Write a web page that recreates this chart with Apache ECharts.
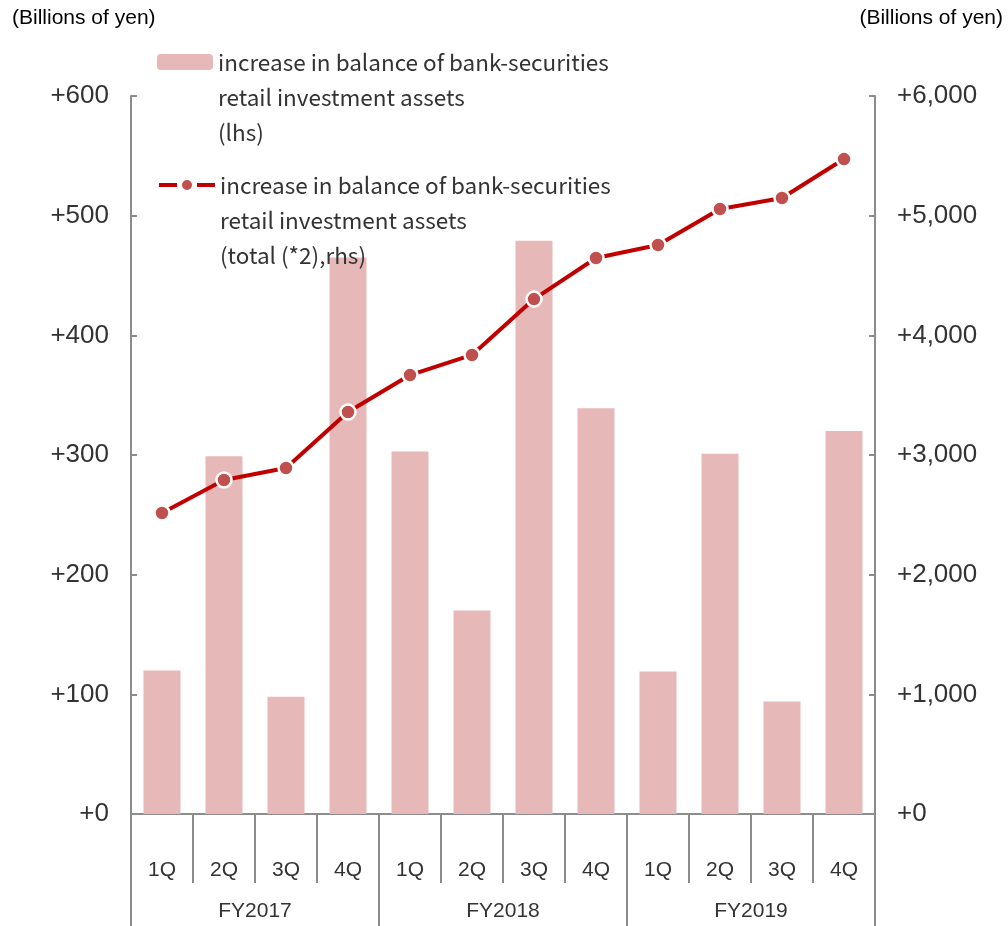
<!DOCTYPE html>
<html>
<head>
<meta charset="utf-8">
<script src="https://cdn.jsdelivr.net/npm/echarts@6/dist/echarts.min.js"></script>
<style>
  html, body { margin: 0; padding: 0; background: #fff; }
  #chart { width: 1008px; height: 926px; }
</style>
</head>
<body>
<div id="chart"></div>
<script>
// Quarterly categories and fiscal-year groups
const quarters = ['1Q', '2Q', '3Q', '4Q', '1Q', '2Q', '3Q', '4Q', '1Q', '2Q', '3Q', '4Q'];
const fiscalYears = ['FY2017', 'FY2018', 'FY2019'];

// Increase in balance per quarter (lhs, billions of yen)
const quarterlyIncrease = [120, 299, 98, 465, 303, 170, 479, 339, 119, 301, 94, 320];
// Cumulative increase (rhs, billions of yen)
const cumulativeIncrease = [2515, 2791, 2891, 3359, 3668, 3836, 4303, 4646, 4755, 5056, 5148, 5473];

const barName = 'increase in balance of bank-securities\nretail investment assets\n(lhs)';
const lineName = 'increase in balance of bank-securities\nretail investment assets\n(total (*2),rhs)';

const axisGray = '#8c8c8c';
const labelFont = 'Liberation Sans, Arial, sans-serif';
const legendFont = '"Noto Sans CJK JP", sans-serif';
const legendLine = 35;

const chart = echarts.init(document.getElementById('chart'), null, { renderer: 'canvas' });

// Two blank lines ahead of the three-line label keep the icon level with the first line
const legendFormatter = name => '\n\n' + name;
const legendText = {
  fontFamily: legendFont,
  fontSize: 22.5,
  color: '#333',
  lineHeight: legendLine
};

chart.setOption({
  animation: false,
  backgroundColor: '#fff',
  title: [
    { text: '(Billions of yen)', left: 12, top: 8, padding: 0,
      textStyle: { fontFamily: labelFont, fontSize: 21, fontWeight: 'normal', color: '#000' } },
    { text: '(Billions of yen)', right: 5, top: 8, padding: 0,
      textStyle: { fontFamily: labelFont, fontSize: 21, fontWeight: 'normal', color: '#000' } }
  ],
  legend: [
    { data: [barName], left: 157, top: 62 - (legendLine * 5) / 2, padding: 0,
      itemWidth: 56, itemHeight: 16, itemGap: 0, textStyle: legendText,
      formatter: legendFormatter, selectedMode: false },
    { data: [lineName], left: 157, top: 185 - (legendLine * 5) / 2, padding: 0,
      itemWidth: 56, itemHeight: 15, itemGap: 0, textStyle: legendText,
      formatter: legendFormatter, selectedMode: false,
      lineStyle: { width: 4, type: [18, 20] } }
  ],
  grid: { left: 131, right: 133, top: 96, bottom: 112, containLabel: false },
  xAxis: [
    {
      type: 'category', data: quarters, position: 'bottom', offset: 0,
      axisLine: { lineStyle: { color: axisGray, width: 2 } },
      axisTick: { show: true, interval: 0, length: 69, lineStyle: { color: axisGray, width: 2 } },
      axisLabel: { interval: 0, margin: 46, fontFamily: labelFont, fontSize: 21, color: '#333' }
    },
    {
      type: 'category', data: fiscalYears, position: 'bottom', offset: 0,
      axisLine: { show: false },
      axisTick: { show: true, interval: 0, length: 112, lineStyle: { color: axisGray, width: 2 } },
      axisLabel: { interval: 0, margin: 87, fontFamily: labelFont, fontSize: 21, color: '#333' }
    }
  ],
  yAxis: [
    {
      type: 'value', min: 0, max: 600, interval: 100, position: 'left',
      splitLine: { show: false },
      axisLine: { show: true, lineStyle: { color: axisGray, width: 2 } },
      axisTick: { show: true, inside: true, length: 6, lineStyle: { color: axisGray, width: 2 } },
      axisLabel: { margin: 22, fontFamily: labelFont, fontSize: 26, color: '#333',
        formatter: v => '+' + v }
    },
    {
      type: 'value', min: 0, max: 6000, interval: 1000, position: 'right',
      splitLine: { show: false },
      axisLine: { show: true, lineStyle: { color: axisGray, width: 2 } },
      axisTick: { show: true, inside: true, length: 6, lineStyle: { color: axisGray, width: 2 } },
      axisLabel: { margin: 22, fontFamily: labelFont, fontSize: 26, color: '#333',
        formatter: v => '+' + v.toLocaleString('en-US') }
    }
  ],
  series: [
    {
      name: barName, type: 'bar', xAxisIndex: 0, yAxisIndex: 0,
      data: quarterlyIncrease, barWidth: 37,
      itemStyle: { color: '#e6b8b7' }
    },
    {
      name: lineName, type: 'line', xAxisIndex: 0, yAxisIndex: 1,
      data: cumulativeIncrease,
      symbol: 'circle', symbolSize: 15, showAllSymbol: true,
      lineStyle: { color: '#c00000', width: 4 },
      itemStyle: { color: '#c0504d', borderColor: '#fff', borderWidth: 2.5 },
      z: 3
    }
  ]
});
</script>
</body>
</html>
